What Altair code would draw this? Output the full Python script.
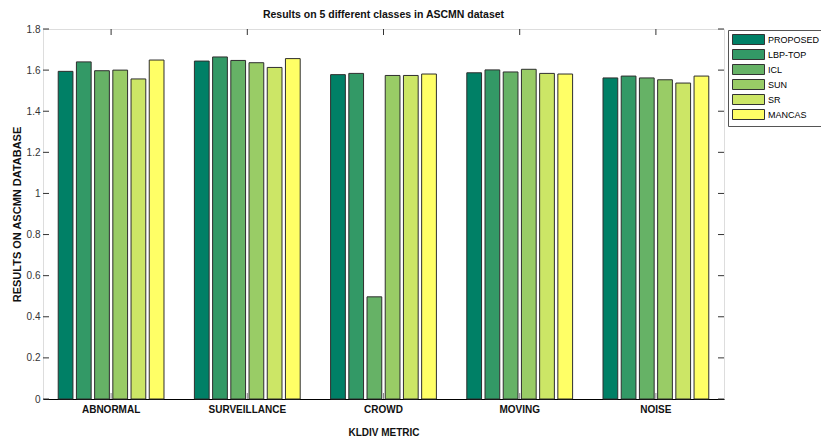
import altair as alt
import pandas as pd

categories = ["ABNORMAL", "SURVEILLANCE", "CROWD", "MOVING", "NOISE"]
methods = ["PROPOSED", "LBP-TOP", "ICL", "SUN", "SR", "MANCAS"]

proposed = [1.594, 1.644, 1.578, 1.587, 1.562]
lbp_top = [1.640, 1.664, 1.584, 1.601, 1.571]
icl = [1.597, 1.647, 0.497, 1.591, 1.562]
sun = [1.600, 1.636, 1.574, 1.604, 1.553]
sr = [1.557, 1.613, 1.574, 1.584, 1.537]
mancas = [1.649, 1.656, 1.581, 1.581, 1.571]

colors = ["#008066", "#339966", "#66b266", "#99cc66", "#cce666", "#ffff66"]
ytick_values = [0, 0.2, 0.4, 0.6, 0.8, 1, 1.2, 1.4, 1.6, 1.8]

series = {"PROPOSED": proposed, "LBP-TOP": lbp_top, "ICL": icl,
          "SUN": sun, "SR": sr, "MANCAS": mancas}
rows = [{"category": c, "method": m, "value": v}
        for m in methods for c, v in zip(categories, series[m])]
df = pd.DataFrame(rows)
ticks_df = pd.DataFrame({"v": ytick_values})
cats_df = pd.DataFrame({"category": categories})

W, H = 681, 370
FONT = "Liberation Sans, Arial, sans-serif"

xscale = alt.Scale(domain=categories, paddingInner=0, paddingOuter=0)
yscale = alt.Scale(domain=[0, 1.8], nice=False)

bars = alt.Chart(df).mark_bar(stroke="#2e2e2e", strokeWidth=1).encode(
    x=alt.X("category:N", sort=categories, scale=xscale,
            axis=alt.Axis(title="KLDIV METRIC", labelAngle=0, labelAlign="center",
                          bandPosition=0.5, tickSize=0,
                          domainColor="#000000", domainWidth=1,
                          labelFont=FONT, labelFontSize=10, labelFontWeight="bold",
                          labelColor="#111111", labelPadding=10,
                          titleFont=FONT, titleFontSize=10, titleFontWeight="bold",
                          titleColor="#111111", titlePadding=13)),
    xOffset=alt.XOffset("method:N", sort=methods,
                        scale=alt.Scale(domain=methods, paddingInner=0.19, paddingOuter=0.835)),
    y=alt.Y("value:Q", scale=yscale,
            axis=alt.Axis(values=ytick_values, format="~g", tickSize=0, domain=False,
                          grid=False, labelPadding=3, labelFont=FONT, labelFontSize=10,
                          labelColor="#333333",
                          title="RESULTS ON ASCMN DATABASE",
                          titleFont=FONT, titleFontSize=11, titleFontWeight="bold",
                          titleColor="#111111", titlePadding=4)),
    color=alt.Color("method:N", sort=methods,
                    scale=alt.Scale(domain=methods, range=colors),
                    legend=alt.Legend(title=None, orient="none", legendX=685, legendY=1,
                                      strokeColor="#555555", fillColor="#ffffff",
                                      padding=4, symbolType="M-3.2,-1H3.2V1H-3.2Z",
                                      symbolSize=100, symbolStrokeColor="#333333",
                                      symbolStrokeWidth=1, symbolOffset=11,
                                      labelFont=FONT, labelFontSize=9,
                                      labelColor="#000000", labelOffset=14,
                                      rowPadding=0, cornerRadius=0)),
)

left_ticks = alt.Chart(ticks_df).mark_rule(color="#333333", strokeWidth=1).encode(
    y=alt.Y("v:Q", scale=yscale), x=alt.value(0), x2=alt.value(6))
right_ticks = alt.Chart(ticks_df).mark_rule(color="#333333", strokeWidth=1).encode(
    y=alt.Y("v:Q", scale=yscale), x=alt.value(W - 6), x2=alt.value(W))
bottom_ticks = alt.Chart(cats_df).mark_rule(color="#888888", strokeWidth=1).encode(
    x=alt.X("category:N", sort=categories, scale=xscale, bandPosition=0.5),
    y=alt.value(H), y2=alt.value(H - 6))
top_ticks = alt.Chart(cats_df).mark_rule(color="#333333", strokeWidth=1).encode(
    x=alt.X("category:N", sort=categories, scale=xscale, bandPosition=0.5),
    y=alt.value(0), y2=alt.value(6))

chart = alt.layer(bottom_ticks, bars, left_ticks, right_ticks, top_ticks).properties(
    width=W, height=H,
    title=alt.TitleParams("Results on 5 different classes in ASCMN dataset",
                          font=FONT, fontSize=10.5, fontWeight="bold",
                          color="#111111", offset=4, anchor="middle"),
    autosize=alt.AutoSizeParams(type="none"),
    padding={"left": 35, "top": 21, "right": 97, "bottom": 37},
).configure_view(stroke="#444444", strokeWidth=1).configure(background="white")

chart.save("out.html", embed_options={"renderer": "svg", "actions": False})
